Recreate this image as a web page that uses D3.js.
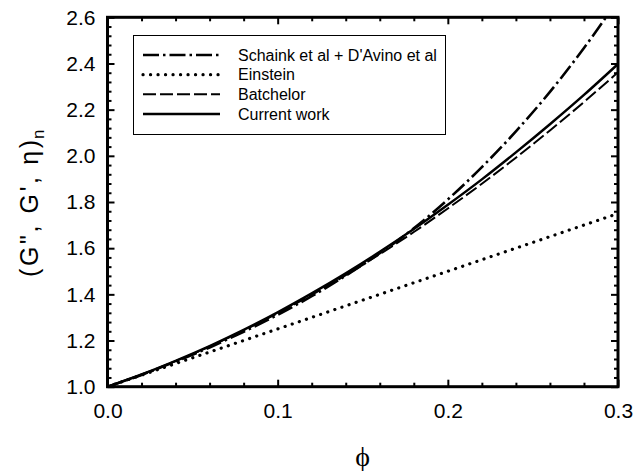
<!DOCTYPE html>
<html>
<head>
<meta charset="utf-8">
<script src="https://cdn.jsdelivr.net/npm/d3@7"></script>
<style>
  body { margin: 0; background: #fff; }
  text { font-family: Arial, "Liberation Sans", sans-serif; fill: #000; }
</style>
</head>
<body>
<div id="chart"></div>
<script>
const width = 637;
const height = 471;

// volume fraction grid
const phi = [0, 0.02, 0.04, 0.06, 0.08, 0.10, 0.12, 0.14, 0.16, 0.18, 0.20, 0.22, 0.24, 0.26, 0.28, 0.30];

const schaink   = [1.000, 1.051, 1.109, 1.170, 1.238, 1.311, 1.392, 1.481, 1.578, 1.686, 1.811, 1.951, 2.106, 2.277, 2.467, 2.675];
const einstein  = [1.000, 1.050, 1.100, 1.150, 1.200, 1.250, 1.300, 1.350, 1.400, 1.450, 1.500, 1.550, 1.600, 1.650, 1.700, 1.750];
const batchelor = [1.000, 1.053, 1.111, 1.174, 1.244, 1.318, 1.398, 1.483, 1.574, 1.670, 1.772, 1.879, 1.992, 2.110, 2.233, 2.362];
const current   = [1.000, 1.053, 1.112, 1.176, 1.246, 1.322, 1.404, 1.491, 1.584, 1.683, 1.788, 1.898, 2.015, 2.137, 2.264, 2.398];

const seriesNames = ["Schaink et al + D'Avino et al", "Einstein", "Batchelor", "Current work"];

const xMajor = [0, 0.1, 0.2, 0.3];
const yMajor = [1.0, 1.2, 1.4, 1.6, 1.8, 2.0, 2.2, 2.4, 2.6];

const plotL = 107.5, plotR = 618, plotT = 17.3, plotB = 386.7;

const x = d3.scaleLinear().domain([0, 0.3]).range([plotL, plotR]);
const y = d3.scaleLinear().domain([1.0, 2.6]).range([plotB, plotT]);

const xMinor = d3.range(0, 0.3001, 0.02).filter(v => !xMajor.some(m => Math.abs(m - v) < 1e-6));
const yMinor = d3.range(1.0, 2.6001, 0.04).filter(v => !yMajor.some(m => Math.abs(m - v) < 1e-6));

const svg = d3.select("#chart").append("svg")
    .attr("width", width)
    .attr("height", height);

svg.append("defs").append("clipPath").attr("id", "plot-clip")
  .append("rect")
    .attr("x", plotL).attr("y", plotT)
    .attr("width", plotR - plotL).attr("height", plotB - plotT);

// styles per series
const styles = [
  { values: schaink,   dash: "16 4 2.5 4", width: 2.6, cap: "butt" },
  { values: einstein,  dash: "0.1 7.4",    width: 3.2, cap: "round" },
  { values: batchelor, dash: "13 4",       width: 2,   cap: "butt" },
  { values: current,   dash: null,         width: 2.5, cap: "butt" }
];

const line = d3.line()
    .x(d => x(d[0]))
    .y(d => y(d[1]))
    .curve(d3.curveMonotoneX);

const curves = svg.append("g").attr("clip-path", "url(#plot-clip)");
styles.forEach(s => {
  curves.append("path")
      .datum(phi.map((p, i) => [p, s.values[i]]))
      .attr("d", line)
      .attr("fill", "none")
      .attr("stroke", "#000")
      .attr("stroke-width", s.width)
      .attr("stroke-linecap", s.cap)
      .attr("stroke-dasharray", s.dash);
});

// axes: ticks inward on all four sides
function tickAxis(axis, values, size, fmt, pad) {
  return axis.tickValues(values).tickSize(-size).tickPadding(pad).tickFormat(fmt);
}
const none = () => "";

const axes = [
  [d3.axisBottom(x), `translate(0,${plotB})`, xMajor, xMinor, d3.format(".1f"), 16],
  [d3.axisTop(x),    `translate(0,${plotT})`, xMajor, xMinor, none, 0],
  [d3.axisLeft(y),   `translate(${plotL},0)`, yMajor, yMinor, d3.format(".1f"), 12],
  [d3.axisRight(y),  `translate(${plotR},0)`, yMajor, yMinor, none, 0]
];

axes.forEach(([ax, tr, major, minor, fmt, pad]) => {
  const gMinor = svg.append("g").attr("transform", tr)
      .call(tickAxis(ax.scale(ax.scale()), minor, 4, none, 0));
  const gMajor = svg.append("g").attr("transform", tr)
      .call(tickAxis(ax, major, 7, fmt, pad));
  [gMinor, gMajor].forEach(g => {
    g.select(".domain").remove();
    g.selectAll(".tick line").attr("stroke", "#000").attr("stroke-width", 2);
    g.selectAll(".tick text").style("font-size", "21px").attr("fill", "#000");
  });
});

// frame
svg.append("rect")
    .attr("x", plotL).attr("y", plotT)
    .attr("width", plotR - plotL).attr("height", plotB - plotT)
    .attr("fill", "none")
    .attr("stroke", "#000")
    .attr("stroke-width", 3);

// axis titles
svg.append("text")
    .attr("x", 362.5).attr("y", 466)
    .attr("text-anchor", "middle")
    .style("font-family", "'Liberation Serif', 'DejaVu Serif', serif")
    .style("font-size", "28px")
    .text("\u03D5");

const yTitle = svg.append("g").attr("transform", "translate(38,0) rotate(-90)");
yTitle.append("text")
    .attr("x", -277).attr("y", 0)
    .attr("textLength", 137)
    .attr("lengthAdjust", "spacing")
    .style("font-size", "25px")
    .text("(G\", G', η)");
yTitle.append("text")
    .attr("x", -139).attr("y", 6)
    .style("font-size", "17px")
    .text("n");

// legend
const legend = svg.append("g");
legend.append("rect")
    .attr("x", 133.5).attr("y", 35.5)
    .attr("width", 312).attr("height", 99)
    .attr("fill", "#fff")
    .attr("stroke", "#000")
    .attr("stroke-width", 1);

const legendY = d3.scalePoint().domain(seriesNames).range([55, 114]);

seriesNames.forEach((name, i) => {
  const s = styles[i];
  const ly = legendY(name);
  legend.append("line")
      .attr("x1", 143).attr("x2", 220)
      .attr("y1", ly).attr("y2", ly)
      .attr("stroke", "#000")
      .attr("stroke-width", s.width)
      .attr("stroke-linecap", s.cap)
      .attr("stroke-dasharray", s.dash);
  legend.append("text")
      .attr("x", 238).attr("y", ly + 5.5)
      .style("font-size", "16px")
      .text(name);
});
</script>
</body>
</html>
